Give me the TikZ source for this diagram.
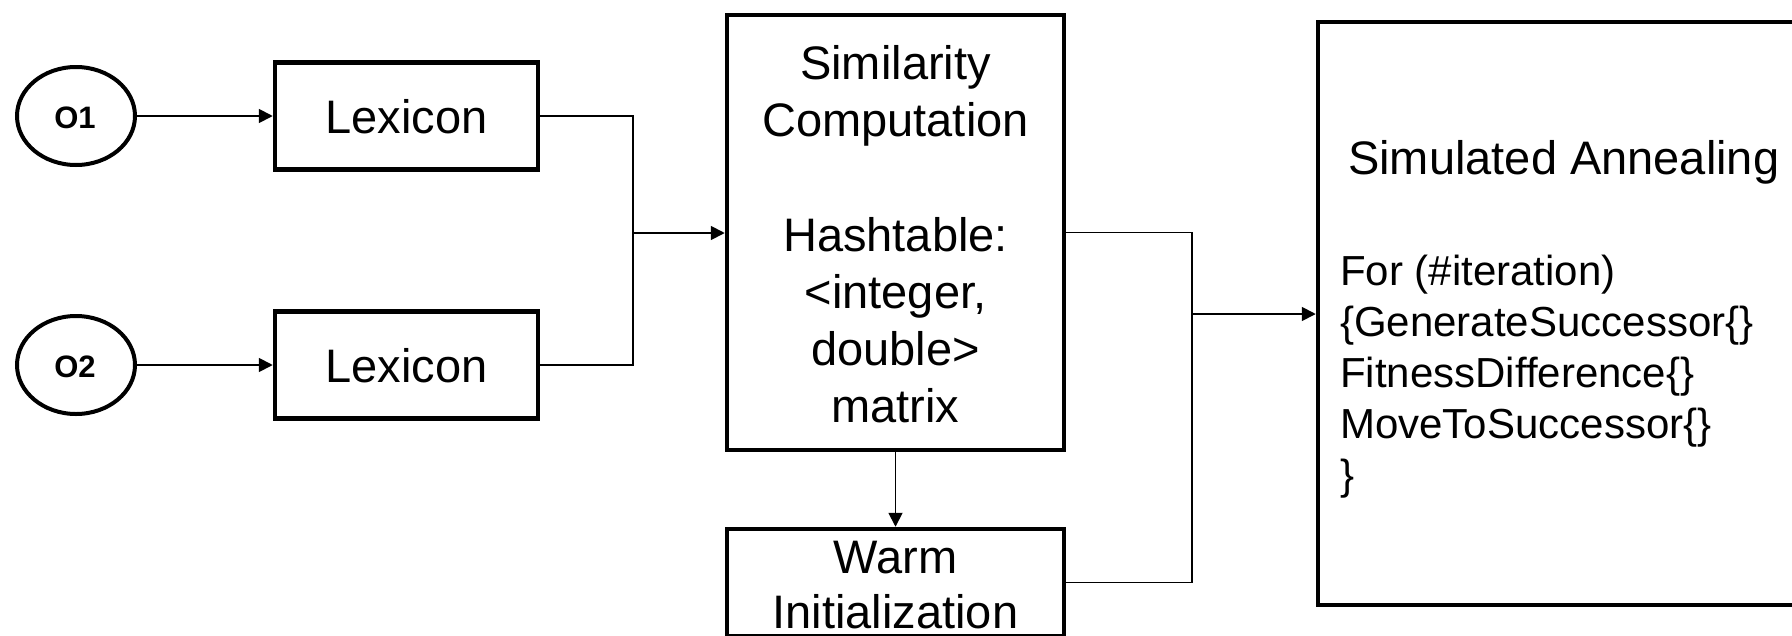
\documentclass[tikz,border=0pt]{standalone}
\usepackage{fontspec}
\setmainfont{Liberation Sans}
\usetikzlibrary{arrows.meta,shapes.geometric}

\tikzset{
  box/.style={draw=black, line width=4.5pt, rectangle, inner sep=0pt},
  onto/.style={draw=black, line width=4pt, ellipse, inner sep=0pt,
               minimum width=118pt, minimum height=98pt},
  conn/.style={draw=black, line width=1.8pt},
  arr/.style={conn, -{Triangle[length=14pt,width=14pt]}},
  big/.style={font=\fontsize{47}{56}\selectfont, inner sep=0pt, anchor=base},
  body/.style={font=\fontsize{42}{51}\selectfont, inner sep=0pt, anchor=base west},
  tag/.style={font=\bfseries\fontsize{31}{36}\selectfont, inner sep=0pt, anchor=base}
}

\begin{document}
\begin{tikzpicture}[x=1pt, y=-1pt]
\useasboundingbox (0,0) rectangle (1792,635);
\clip (0,0) rectangle (1792,635);

% inputs
\node[onto] (o1) at (76,116) {};
\node[tag] (o1t) at (75,128) {O1};
\node[onto] (o2) at (76,365) {};
\node[tag] (o2t) at (75,377) {O2};

% lexicons
\node[box, minimum width=263pt, minimum height=107pt] (lex1) at (406.5,116) {};
\node[big] (lex1t) at (406.5,133) {Lexicon};
\node[box, minimum width=263pt, minimum height=107pt] (lex2) at (406.5,365) {};
\node[big] (lex2t) at (406.5,382) {Lexicon};

% similarity computation
\node[box, minimum width=337pt, minimum height=435pt] (sim) at (895.5,232.5) {};
\node[big] (sim1) at (895.5,79)  {Similarity};
\node[big] (sim2) at (895.5,136) {Computation};
\node[big] (sim3) at (895.5,251) {Hashtable:};
\node[big] (sim4) at (895.5,308) {<integer,};
\node[big] (sim5) at (895.5,365) {double>};
\node[big] (sim6) at (895.5,422) {matrix};

% warm initialization
\node[box, minimum width=337pt, minimum height=107pt] (warm) at (895.5,582.5) {};
\node[big] (warm1) at (895.5,573) {Warm};
\node[big] (warm2) at (895.5,628) {Initialization};

% simulated annealing
\node[box, minimum width=512pt, minimum height=583pt] (sa) at (1574,313.5) {};
\node[big, anchor=base west] (sah) at (1348,174) {Simulated Annealing};
\node[body] (sa1) at (1340,285) {For (\#iteration)};
\node[body] (sa2) at (1340,336) {\{GenerateSuccessor\{\}};
\node[body] (sa3) at (1340,387) {FitnessDifference\{\}};
\node[body] (sa4) at (1340,438) {MoveToSuccessor\{\}};
\node[body] (sa5) at (1340,489) {\}};

% junction points
\coordinate (jl) at (633,233);
\coordinate (jr) at (1192,314);

% connectors
\draw[arr] (o1) -- (lex1);
\draw[arr] (o2) -- (lex2);
\draw[conn] (lex1.east) -| (jl);
\draw[conn] (lex2.east) -| (jl);
\draw[arr] (jl) -- (jl -| sim.west);
\draw[arr] (sim.south) -- (warm.north);
\draw[conn] (sim.east) -| (jr);
\draw[conn] (warm.east) -| (jr);
\draw[arr] (jr) -- (jr -| sa.west);
\end{tikzpicture}
\end{document}
